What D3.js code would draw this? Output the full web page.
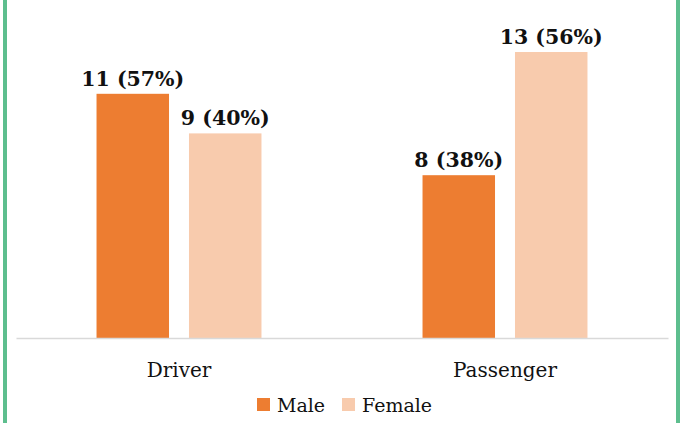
<!DOCTYPE html>
<html>
<head>
<meta charset="utf-8">
<script src="https://cdn.jsdelivr.net/npm/d3@7"></script>
<style>
  html, body { margin: 0; padding: 0; background: #fff; }
  svg { display: block; }
</style>
</head>
<body>
<div id="chart"></div>
<script>
const categories = ["Driver", "Passenger"];
const series = ["Male", "Female"];
// bar heights
const maleValues = [11.1, 7.4];
const femaleValues = [9.3, 13.0];
// data labels as printed
const maleLabels = ["11 (57%)", "8 (38%)"];
const femaleLabels = ["9 (40%)", "13 (56%)"];

const colors = { Male: "#ED7D31", Female: "#F8CBAD" };
const W = 680, H = 423;
const svg = d3.select("#chart").append("svg").attr("width", W).attr("height", H);

// green side borders
svg.append("rect").attr("x", 3).attr("y", 0).attr("width", 4).attr("height", H).attr("fill", "#5DBE8E");
svg.append("rect").attr("x", 676).attr("y", 0).attr("width", 4).attr("height", H).attr("fill", "#5DBE8E");

const plotLeft = 16, plotRight = 668, baseY = 338;
const x0 = d3.scaleBand().domain(categories).range([plotLeft, plotRight]).padding(0);
const bw = x0.bandwidth();
const x1 = d3.scaleBand().domain(series)
  .range([bw * 0.247, bw * 0.753]).paddingInner(0.216);
const y = d3.scaleLinear().domain([0, 13]).range([baseY, 52]);

const rows = categories.map((c, i) => ({
  cat: c,
  bars: [
    { s: "Male", v: maleValues[i], label: maleLabels[i] },
    { s: "Female", v: femaleValues[i], label: femaleLabels[i] }
  ]
}));

const g = svg.append("g");
const grp = g.selectAll("g.cat").data(rows).join("g")
  .attr("class", "cat")
  .attr("transform", d => `translate(${x0(d.cat)},0)`);

grp.selectAll("rect").data(d => d.bars).join("rect")
  .attr("x", d => x1(d.s))
  .attr("width", x1.bandwidth())
  .attr("y", d => y(d.v))
  .attr("height", d => baseY - y(d.v))
  .attr("fill", d => colors[d.s]);

grp.selectAll("text.lbl").data(d => d.bars).join("text")
  .attr("class", "lbl")
  .attr("x", d => x1(d.s) + x1.bandwidth() / 2)
  .attr("y", d => y(d.v) - 8)
  .attr("text-anchor", "middle")
  .attr("font-family", "'DejaVu Serif', serif")
  .attr("font-weight", "bold")
  .attr("font-size", 20.5)
  .attr("fill", "#111")
  .text(d => d.label);

// baseline (x axis)
const xAxis = d3.axisBottom(x0).tickSize(0).tickPadding(20);
const ax = svg.append("g").attr("transform", `translate(0,${baseY})`).call(xAxis);
ax.select(".domain").attr("stroke", "#D9D9D9").attr("stroke-width", 1.3);
ax.selectAll("text")
  .attr("font-family", "'DejaVu Serif', serif")
  .attr("font-size", 20)
  .attr("fill", "#111")
  .attr("dy", "0.71em")
  .attr("y", 25);

// legend
const legend = svg.append("g");
const legendItems = [{ s: "Male", x: 257 }, { s: "Female", x: 342 }];
legendItems.forEach(it => {
  legend.append("rect").attr("x", it.x).attr("y", 398).attr("width", 13).attr("height", 13).attr("fill", colors[it.s]);
  legend.append("text").attr("x", it.x + 20).attr("y", 412)
    .attr("font-family", "'DejaVu Serif', serif")
    .attr("font-size", 19)
    .attr("fill", "#111")
    .text(it.s);
});
</script>
</body>
</html>
